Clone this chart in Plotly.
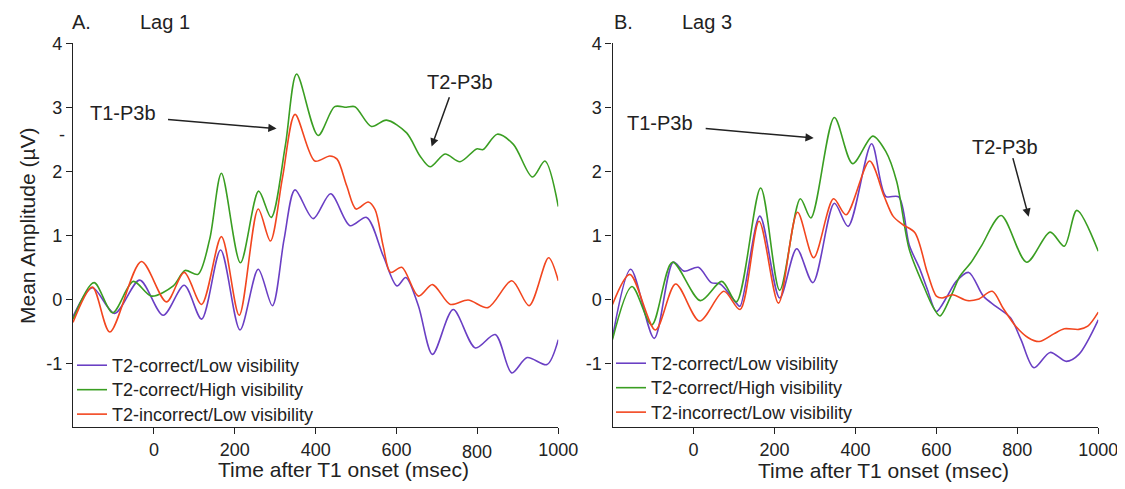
import plotly.graph_objects as go

# ---------------- data ----------------
# Panel A, Lag 1
a_low_x = [-200, -152, -97, -35, 23, 75, 118, 165, 213, 258, 293, 322, 349, 394, 437, 485, 526, 567, 601, 623, 654, 689, 740, 795, 844, 885, 923, 972, 1000]
a_low_y = [-0.27, 0.18, -0.22, 0.30, -0.25, 0.22, -0.31, 0.77, -0.48, 0.47, -0.10, 0.94, 1.71, 1.26, 1.65, 1.15, 1.28, 0.68, 0.21, 0.34, -0.10, -0.86, -0.16, -0.76, -0.55, -1.15, -0.91, -1.02, -0.63]

a_high_x = [-200, -148, -102, -51, -6, 48, 77, 109, 138, 167, 214, 259, 290, 325, 353, 406, 447, 476, 497, 538, 575, 625, 658, 683, 720, 757, 798, 814, 849, 889, 936, 967, 1000]
a_high_y = [-0.31, 0.26, -0.21, 0.28, 0.05, 0.21, 0.45, 0.39, 0.94, 1.97, 0.57, 1.69, 1.28, 2.40, 3.52, 2.56, 3.01, 3.00, 3.01, 2.70, 2.80, 2.60, 2.24, 2.07, 2.27, 2.15, 2.35, 2.34, 2.58, 2.42, 1.91, 2.16, 1.45]

a_inc_x = [-200, -152, -109, -31, 31, 75, 118, 167, 211, 258, 288, 318, 349, 398, 435, 453, 477, 500, 530, 547, 567, 585, 613, 654, 689, 733, 777, 826, 885, 928, 976, 1000]
a_inc_y = [-0.36, 0.19, -0.51, 0.59, -0.04, 0.42, -0.08, 0.98, -0.25, 1.41, 0.91, 1.90, 2.89, 2.16, 2.24, 2.19, 1.77, 1.41, 1.52, 1.40, 0.83, 0.42, 0.50, 0.05, 0.23, -0.08, -0.01, -0.13, 0.29, -0.10, 0.65, 0.29]

# Panel B, Lag 3
b_low_x = [-200, -155, -97, -50, -23, 12, 44, 66, 106, 115, 164, 213, 255, 295, 348, 382, 440, 475, 507, 533, 560, 578, 600, 627, 649, 680, 716, 747, 783, 809, 841, 881, 921, 952, 1000]
b_low_y = [-0.60, 0.47, -0.61, 0.58, 0.44, 0.50, 0.26, 0.24, -0.06, -0.11, 1.30, 0.02, 0.79, 0.26, 1.50, 1.14, 2.43, 1.61, 1.60, 0.85, 0.46, 0.15, -0.19, 0.05, 0.28, 0.42, 0.05, -0.11, -0.29, -0.63, -1.07, -0.83, -0.97, -0.86, -0.32]

b_high_x = [-200, -152, -103, -52, 17, 70, 106, 166, 213, 264, 290, 348, 393, 443, 475, 502, 533, 569, 591, 609, 636, 658, 685, 711, 760, 823, 881, 916, 947, 1000]
b_high_y = [-0.63, 0.20, -0.40, 0.58, -0.02, 0.28, -0.04, 1.74, 0.14, 1.57, 1.27, 2.84, 2.12, 2.55, 2.31, 1.84, 0.78, 0.20, -0.11, -0.26, 0.05, 0.36, 0.57, 0.83, 1.31, 0.58, 1.05, 0.83, 1.39, 0.75]

b_inc_x = [-200, -157, -94, -44, 15, 75, 115, 162, 210, 257, 297, 346, 377, 435, 471, 493, 516, 547, 578, 600, 614, 640, 676, 703, 738, 765, 796, 827, 854, 890, 916, 952, 974, 1000]
b_inc_y = [-0.08, 0.39, -0.48, 0.24, -0.34, 0.125, -0.16, 1.22, -0.06, 1.36, 0.65, 1.57, 1.32, 2.16, 1.61, 1.30, 1.17, 1.04, 0.41, 0.05, 0.02, 0.07, -0.02, 0.0, 0.125, -0.14, -0.42, -0.60, -0.66, -0.54, -0.46, -0.47, -0.42, -0.20]

series_names = ["T2-correct/Low visibility", "T2-correct/High visibility", "T2-incorrect/Low visibility"]
series_colors = ["#6a3fc4", "#3a9e22", "#f2461f"]

x_tickvals = [0, 200, 400, 600, 800, 1000]
y_tickvals = [-1, 0, 1, 2, 3, 4]
y_ticktext = ["-1", "0", "1", "2", "3", "4"]

FONT = "Liberation Sans, Arial, sans-serif"
PAGE_MARGIN = 8            # default <body> margin of the html page
W, H = 1125 - PAGE_MARGIN, 489 - PAGE_MARGIN


def px(x):
    return (x - PAGE_MARGIN) / W


def py(y):
    return 1 - (y - PAGE_MARGIN) / H


fig = go.Figure()

panels = [
    ("x", "y", "legend", [(a_low_x, a_low_y), (a_high_x, a_high_y), (a_inc_x, a_inc_y)]),
    ("x2", "y2", "legend2", [(b_low_x, b_low_y), (b_high_x, b_high_y), (b_inc_x, b_inc_y)]),
]
for xa, ya, leg, data in panels:
    for (xs, ys), name, col in zip(data, series_names, series_colors):
        fig.add_trace(go.Scatter(
            x=xs, y=ys, mode="lines",
            name='<span style="font-size:18px">' + name + '</span>',
            xaxis=xa, yaxis=ya, legend=leg,
            line=dict(color=col, width=1.6, shape="spline", smoothing=0.85),
        ))

axis_common = dict(
    showgrid=False, zeroline=False, showline=True, linecolor="#222", linewidth=1.3,
    ticks="outside", ticklen=6, tickwidth=1.2, tickcolor="#222", automargin=False,
    tickfont=dict(family=FONT, size=18, color="#222"),
)

xa_ticktext = ["0", "200", "400", "600", "", "1000"]
xb_ticktext = ["0", "200", "400", "600", "800", "1000"]
xtitle_font = dict(family=FONT, size=21, color="#222")

fig.update_layout(
    width=W, height=H,
    margin=dict(l=0, r=0, t=0, b=0, autoexpand=False),
    paper_bgcolor="white", plot_bgcolor="white",
    showlegend=True,
    xaxis=dict(domain=[px(73.0), px(558.3)], range=[-200, 1000], anchor="y",
               tickvals=x_tickvals, ticktext=xa_ticktext, **axis_common),
    yaxis=dict(domain=[py(427.3), py(43.3)], range=[-2, 4], anchor="x",
               tickvals=y_tickvals, ticktext=y_ticktext, **axis_common),
    xaxis2=dict(domain=[px(612.5), px(1098.3)], range=[-200, 1000], anchor="y2",
                tickvals=x_tickvals, ticktext=xb_ticktext, **axis_common),
    yaxis2=dict(domain=[py(427.3), py(43.3)], range=[-2, 4], anchor="x2",
                tickvals=y_tickvals, ticktext=y_ticktext, **axis_common),
    legend=dict(x=px(72), y=py(348), xanchor="left", yanchor="top", bgcolor="rgba(0,0,0,0)",
                font=dict(family=FONT, size=16.5, color="#222"), tracegroupgap=0),
    legend2=dict(x=px(611), y=py(346), xanchor="left", yanchor="top", bgcolor="rgba(0,0,0,0)",
                 font=dict(family=FONT, size=16.5, color="#222"), tracegroupgap=0),
)

txt = dict(family=FONT, size=20, color="#222")
annotations = [
    # panel titles
    dict(text="A.", x=px(81.7), y=py(21.7), xref="paper", yref="paper", xanchor="center", yanchor="middle",
         showarrow=False, font=txt),
    dict(text="Lag 1", x=px(165), y=py(21.7), xref="paper", yref="paper", xanchor="center", yanchor="middle",
         showarrow=False, font=txt),
    dict(text="B.", x=px(623.3), y=py(21.7), xref="paper", yref="paper", xanchor="center", yanchor="middle",
         showarrow=False, font=txt),
    dict(text="Lag 3", x=px(706.7), y=py(21.7), xref="paper", yref="paper", xanchor="center", yanchor="middle",
         showarrow=False, font=txt),
    # axis titles
    dict(text="Mean Amplitude (µV)", x=px(27), y=py(226), xref="paper", yref="paper", xanchor="center",
         yanchor="middle", showarrow=False, textangle=-90, font=dict(family=FONT, size=21, color="#222")),
    dict(text="Time after T1 onset (msec)", x=px(343), y=py(469), xref="paper", yref="paper",
         xanchor="center", yanchor="middle", showarrow=False, font=xtitle_font),
    dict(text="Time after T1 onset (msec)", x=px(883), y=py(470), xref="paper", yref="paper",
         xanchor="center", yanchor="middle", showarrow=False, font=xtitle_font),
    # stray tick label in panel A
    dict(text="-", x=-200, y=2.57, xref="x", yref="y", xanchor="right", xshift=-6, showarrow=False,
         font=dict(family=FONT, size=18, color="#222")),
    # lowered 800 label in panel A
    dict(text="800", x=800, y=-2, xref="x", yref="y", xanchor="center", yanchor="top", yshift=-13,
         showarrow=False, font=dict(family=FONT, size=18, color="#222")),
    # component labels
    dict(text="T1-P3b", x=-77.6, y=2.917, xref="x", yref="y", showarrow=False, font=txt),
    dict(text="T2-P3b", x=756.7, y=3.39, xref="x", yref="y", showarrow=False, font=txt),
    dict(text="T1-P3b", x=-82.4, y=2.75, xref="x2", yref="y2", showarrow=False, font=txt),
    dict(text="T2-P3b", x=770.5, y=2.38, xref="x2", yref="y2", showarrow=False, font=txt),
]
arrows = [
    ("x", "y", 31.3, 2.81, 303.3, 2.667),
    ("x", "y", 732, 3.18, 686.7, 2.386),
    ("x2", "y2", 26.5, 2.67, 297, 2.52),
    ("x2", "y2", 788, 2.23, 828, 1.29),
]
for xr, yr, x0, y0, x1, y1 in arrows:
    annotations.append(dict(
        x=x1, y=y1, ax=x0, ay=y0, xref=xr, yref=yr, axref=xr, ayref=yr, text="",
        showarrow=True, arrowhead=2, arrowsize=1.1, arrowwidth=1.5, arrowcolor="#222",
    ))
fig.update_layout(annotations=annotations)

fig.write_html("out.html")
